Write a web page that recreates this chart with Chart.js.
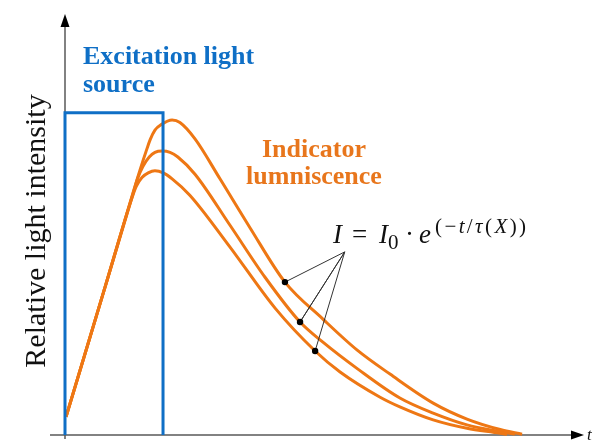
<!DOCTYPE html>
<html>
<head>
<meta charset="utf-8">
<script src="https://cdn.jsdelivr.net/npm/chart.js@4.4.1/dist/chart.umd.min.js"></script>
<style>
  html, body { margin: 0; padding: 0; background: #fff; }
  #wrap { width: 593px; height: 441px; position: relative; }
</style>
</head>
<body>
<div id="wrap"><canvas id="decayChart"></canvas></div>
<script>
// time axis 0..100, intensity axis 0..100 (arbitrary units)

// excitation pulse
const pulseT = [0, 0, 18.85, 18.85];
const pulseI = [0, 76.7, 76.7, 0];

// luminescence curves (long, medium, short lifetime)
const longT = [0.2, 7.7, 14.4, 15.8, 16.4, 17.3, 18.5, 20.6, 22.1, 25.0, 29.8, 35.6, 42.3, 49.6, 56.2, 62.5, 70.8, 77.3, 83.7, 87.9];
const longI = [4.3, 35.2, 63.0, 68.3, 70.4, 72.6, 73.9, 75.0, 74.4, 70.5, 61.0, 49.3, 36.4, 27.6, 20.2, 14.5, 7.6, 3.8, 1.3, 0.2];

const midT = [0.2, 7.7, 13.1, 14.0, 15.0, 16.2, 17.3, 18.7, 20.2, 21.7, 25.0, 31.7, 38.5, 45.2, 49.6, 56.2, 64.4, 70.8, 77.3, 83.7, 86.5];
const midI = [4.3, 35.2, 57.5, 61.2, 64.0, 66.2, 67.3, 67.6, 67.3, 66.2, 62.1, 50.0, 37.5, 26.9, 22.1, 15.8, 8.8, 5.2, 2.4, 0.8, 0.2];

const shortT = [0.2, 7.7, 12.7, 13.7, 14.8, 16.0, 17.3, 18.9, 20.6, 24.0, 31.7, 40.4, 48.1, 52.9, 60.6, 64.4, 70.8, 77.3, 83.7, 85.0];
const shortI = [4.3, 35.2, 55.8, 59.2, 61.3, 62.4, 62.9, 62.4, 61.0, 57.1, 44.8, 30.2, 20.0, 15.0, 9.0, 6.7, 3.6, 1.6, 0.4, 0.1];

// marked points on each curve and where the callout lines meet
const dotT = [42.3, 45.2, 48.1];
const dotI = [36.4, 26.9, 20.0];
const calloutT = 53.8;
const calloutI = 43.6;

const BLUE = "#0F6FC6";
const ORANGE = "#EE7714";

function pts(ts, is) {
    return ts.map((t, i) => ({ x: t, y: is[i] }));
}

// callout: dot -> apex -> dot -> apex -> dot
const calloutPts = [];
dotT.forEach((t, i) => {
    if (i > 0) calloutPts.push({ x: calloutT, y: calloutI });
    calloutPts.push({ x: t, y: dotI[i] });
});

function curve(ts, is) {
    return {
        data: pts(ts, is),
        borderColor: ORANGE,
        borderWidth: 3,
        pointRadius: 0,
        cubicInterpolationMode: "monotone",
        clip: false,
        order: 2
    };
}

// arrows for both axes
const axesPlugin = {
    id: "axes",
    beforeDatasetsDraw(chart) {
        const { ctx, chartArea: a } = chart;
        ctx.save();
        ctx.strokeStyle = "#5a5a5a";
        ctx.fillStyle = "#000";
        ctx.lineWidth = 1.5;
        ctx.beginPath();
        ctx.moveTo(a.left, a.bottom + 4);
        ctx.lineTo(a.left, 24);
        ctx.moveTo(50, a.bottom);
        ctx.lineTo(575, a.bottom);
        ctx.stroke();
        ctx.beginPath();
        ctx.moveTo(a.left, 14);
        ctx.lineTo(a.left - 4.5, 27);
        ctx.lineTo(a.left + 4.5, 27);
        ctx.closePath();
        ctx.fill();
        ctx.beginPath();
        ctx.moveTo(584, a.bottom);
        ctx.lineTo(571, a.bottom - 4.5);
        ctx.lineTo(571, a.bottom + 4.5);
        ctx.closePath();
        ctx.fill();
        ctx.restore();
    }
};

// draws [text, font] pieces left to right with a small gap
function drawRun(ctx, x, y, gap, pieces) {
    pieces.forEach(([txt, font]) => {
        ctx.font = font;
        ctx.fillText(txt, x, y);
        x += ctx.measureText(txt).width + gap;
    });
}

const labelPlugin = {
    id: "labels",
    afterDraw(chart) {
        const ctx = chart.ctx;
        ctx.save();
        ctx.textBaseline = "alphabetic";

        ctx.fillStyle = BLUE;
        ctx.font = 'bold 26px "Liberation Serif"';
        ctx.textAlign = "left";
        ctx.fillText("Excitation light", 83, 64);
        ctx.fillText("source", 83, 92);

        ctx.fillStyle = "#E8761C";
        ctx.textAlign = "center";
        ctx.font = 'bold 26px "Liberation Serif"';
        ctx.fillText("Indicator", 314, 157);
        ctx.fillText("lumniscence", 314, 184);

        ctx.fillStyle = "#111";
        ctx.save();
        ctx.translate(45, 231);
        ctx.rotate(-Math.PI / 2);
        ctx.font = '30px "Liberation Serif"';
        ctx.fillText("Relative light intensity", 0, 0);
        ctx.restore();

        // I = I0 · e^(−t/τ(X))
        ctx.textAlign = "left";
        const it = 'italic 27px "Liberation Serif"';
        const rm = '27px "Liberation Serif"';
        const sit = 'italic 21px "Liberation Serif"';
        const srm = '21px "Liberation Serif"';
        ctx.font = it;
        ctx.fillText("I", 333, 243);
        ctx.font = rm;
        ctx.fillText("=", 352, 243);
        ctx.font = it;
        ctx.fillText("I", 379, 243);
        ctx.font = srm;
        ctx.fillText("0", 388, 249);
        ctx.font = rm;
        ctx.fillText("·", 405, 243);
        ctx.font = it;
        ctx.fillText("e", 419, 243);
        drawRun(ctx, 435, 233, 2.4, [
            ["(", srm], ["−", srm], ["t", sit], ["/", srm], ["τ", sit],
            ["(", srm], ["X", sit], [")", srm], [")", srm]
        ]);

        ctx.font = 'italic 17px "Liberation Serif"';
        ctx.fillText("t", 587, 440);
        ctx.restore();
    }
};

new Chart(document.getElementById("decayChart"), {
    type: "line",
    data: {
        datasets: [
            {
                data: pts(pulseT, pulseI),
                borderColor: BLUE,
                borderWidth: 3,
                pointRadius: 0,
                tension: 0,
                clip: false,
                order: 1
            },
            curve(longT, longI),
            curve(midT, midI),
            curve(shortT, shortI),
            {
                data: calloutPts,
                borderColor: "#333",
                borderWidth: 1,
                pointRadius: 0,
                tension: 0,
                clip: false,
                order: 0
            },
            {
                data: pts(dotT, dotI),
                showLine: false,
                pointRadius: 3.2,
                pointBackgroundColor: "#000",
                pointBorderWidth: 0,
                clip: false,
                order: -1
            }
        ]
    },
    options: {
        responsive: true,
        maintainAspectRatio: false,
        animation: false,
        devicePixelRatio: 1,
        layout: { padding: { left: 65, right: 8, top: 15, bottom: 6 } },
        plugins: { legend: { display: false }, tooltip: { enabled: false } },
        scales: {
            x: { type: "linear", min: 0, max: 100, display: false },
            y: { type: "linear", min: 0, max: 100, display: false }
        }
    },
    plugins: [axesPlugin, labelPlugin]
});
</script>
</body>
</html>
